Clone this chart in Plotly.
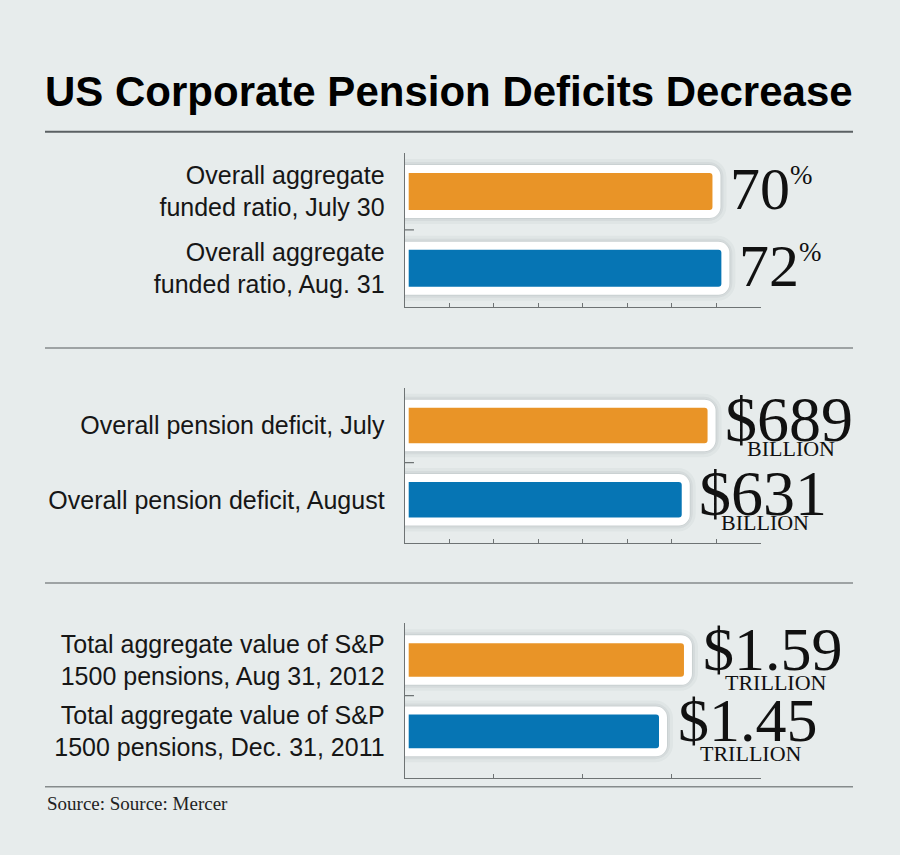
import plotly.graph_objects as go

# ---------------- data ----------------
title_text = "US Corporate Pension Deficits Decrease"
source_text = "Source: Source: Mercer"

p1_labels = ["Overall aggregate<br>funded ratio, July 30", "Overall aggregate<br>funded ratio, Aug. 31"]
p1_values = [70, 72]

p2_labels = ["Overall pension deficit, July", "Overall pension deficit, August"]
p2_values = [689, 631]
p2_unit = "BILLION"

p3_labels = ["Total aggregate value of S&P<br>1500 pensions, Aug 31, 2012",
             "Total aggregate value of S&P<br>1500 pensions, Dec. 31, 2011"]
p3_values = [1.59, 1.45]
p3_unit = "TRILLION"

bar_colors = ["#E99427", "#0675B4"]

# ---------------- styling ----------------
W, H = 900, 855
BG = "#E7ECEC"
AXIS = "#6E7374"
SANS = "Liberation Sans Narrow, Arial Narrow, Liberation Sans, sans-serif"
SERIF = "Liberation Serif, Times New Roman, serif"
NB = "&nbsp;"


def py(y):
    return 1 - y / H


xdom = [404.7 / W, 761 / W]
ydoms = [[py(306.7), py(153)], [py(543.3), py(388)], [py(778.3), py(623)]]

panels = [
    dict(labels=p1_labels, values=p1_values, rng=[0, 80], dtick=10),
    dict(labels=p2_labels, values=p2_values, rng=[0, 800], dtick=100),
    dict(labels=p3_labels, values=p3_values, rng=[0, 2], dtick=0.5),
]

fig = go.Figure()
annotations = []
shapes = []

for i, p in enumerate(panels):
    n = "" if i == 0 else str(i + 1)
    xa, ya = "x" + n, "y" + n
    # soft shadow
    for lw, alpha in [(20, 0.035), (14, 0.05), (10, 0.06)]:
        fig.add_trace(go.Bar(
            x=p["values"], y=p["labels"], orientation="h", width=0.585,
            marker=dict(color="rgba(0,0,0,0)", cornerradius=8,
                        line=dict(color=f"rgba(40,45,50,{alpha})", width=lw)),
            xaxis=xa, yaxis=ya, hoverinfo="skip", showlegend=False))
    fig.add_trace(go.Bar(
        x=p["values"], y=p["labels"], orientation="h", width=0.585,
        marker=dict(color=bar_colors, cornerradius=7,
                    line=dict(color="white", width=8)),
        xaxis=xa, yaxis=ya, showlegend=False))

    fig.layout["xaxis" + n] = dict(
        domain=xdom, range=p["rng"], dtick=p["dtick"], tick0=0, anchor=ya,
        showgrid=False, zeroline=False, showline=True, linecolor=AXIS, linewidth=1.2,
        ticks="inside", ticklen=4, tickcolor=AXIS, tickwidth=1, showticklabels=False,
        fixedrange=True)
    fig.layout["yaxis" + n] = dict(
        domain=ydoms[i], type="category", categoryarray=p["labels"], autorange="reversed",
        anchor=xa, showgrid=False, zeroline=False, showline=True, linecolor=AXIS,
        linewidth=1.2, ticks="", ticklabelstandoff=14,
        tickfont=dict(family=SANS, size=25, color="#161616"), fixedrange=True)

    # mid tick on the category boundary
    shapes.append(dict(type="line", xref=xa + " domain", yref=ya, x0=0, x1=0.026,
                       y0=0.5, y1=0.5, line=dict(color=AXIS, width=1.2)))

# value labels
for v, lab in zip(p1_values, p1_labels):
    annotations.append(dict(
        x=v, y=lab, xref="x", yref="y", xanchor="left", yanchor="middle",
        xshift=12, yshift=2, showarrow=False,
        text=f"{v}<sup><span style='font-size:27px'>%</span></sup>",
        font=dict(family=SERIF, size=60, color="#111")))

for v, lab in zip(p2_values, p2_labels):
    annotations.append(dict(
        x=v, y=lab, xref="x2", yref="y2", xanchor="left", yanchor="middle",
        xshift=11, yshift=3, showarrow=False, align="left",
        text=(f"<span style='font-size:64px'>${v}</span><br>"
              f"<span style='font-size:22px'>{NB * 4}{p2_unit}</span>"),
        font=dict(family=SERIF, size=11.5, color="#111")))

for v, lab in zip(p3_values, p3_labels):
    annotations.append(dict(
        x=v, y=lab, xref="x3", yref="y3", xanchor="left", yanchor="middle",
        xshift=13, yshift=5, showarrow=False, align="left",
        text=(f"<span style='font-size:62px'>${v:.2f}</span><br>"
              f"<span style='font-size:22px'>{NB * 4}{p3_unit}</span>"),
        font=dict(family=SERIF, size=15.4, color="#111")))

# title and source
annotations.append(dict(
    x=43 / W, y=py(91.5), xref="paper", yref="paper", xanchor="left", yanchor="middle",
    showarrow=False, text=title_text,
    font=dict(family=SANS, size=42, color="#000", weight="bold")))
annotations.append(dict(
    x=45 / W, y=py(803), xref="paper", yref="paper", xanchor="left", yanchor="middle",
    showarrow=False, text=source_text,
    font=dict(family=SERIF, size=19, color="#222")))

# separator rules
for y, w, c in [(131.7, 2, "#5B6163"), (348, 1.5, "#868B8C"), (583, 1.5, "#868B8C"),
                (786.7, 1.5, "#868B8C")]:
    shapes.append(dict(type="line", xref="paper", yref="paper", x0=45 / W, x1=853 / W,
                       y0=py(y), y1=py(y), line=dict(color=c, width=w)))

fig.update_layout(
    width=W, height=H, margin=dict(l=0, r=0, t=0, b=0),
    paper_bgcolor=BG, plot_bgcolor=BG, barmode="overlay", showlegend=False,
    annotations=annotations, shapes=shapes)

fig.write_html("out.html", config={"displayModeBar": False},
               post_script="document.body.style.margin='0';document.body.style.background='" + BG + "';")
